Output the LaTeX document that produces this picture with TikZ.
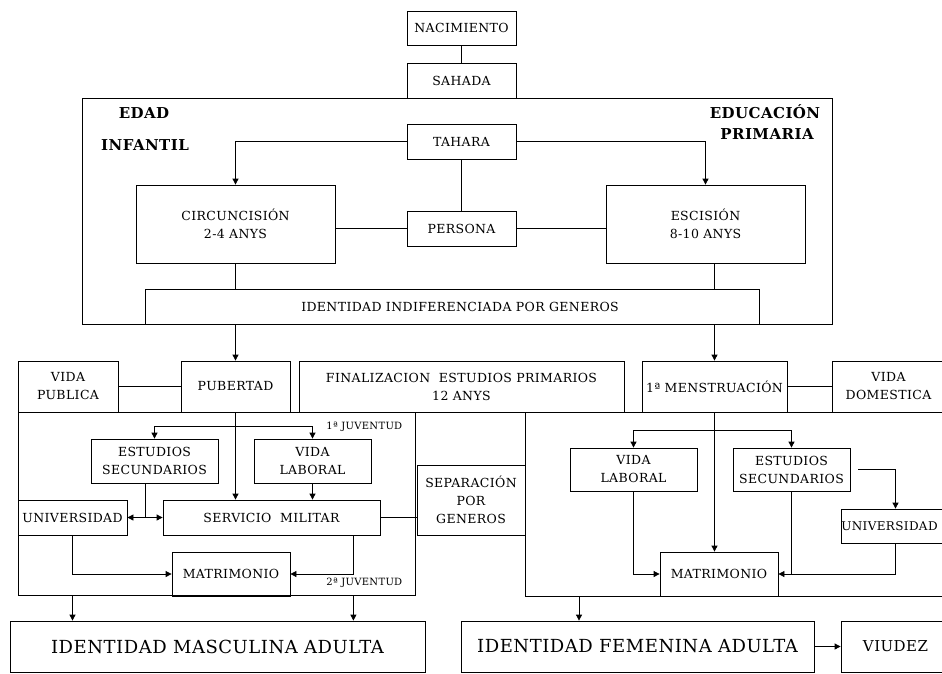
\documentclass[tikz,border=0pt]{standalone}
\usepackage{fontspec}
\setmainfont{DejaVu Serif}[LetterSpace=3]
\usetikzlibrary{arrows.meta, positioning}

\begin{document}
\begin{tikzpicture}[x=1pt, y=-1pt, line width=0.8pt,
    box/.style={draw, inner sep=1pt, align=center, font=\fontsize{12.5}{18}\selectfont},
    bigbox/.style={draw, inner sep=1pt, align=center, font=\fontsize{18}{20}\selectfont},
    tag/.style={anchor=base, font=\bfseries\fontsize{15}{17}\selectfont},
    small/.style={anchor=east, font=\fontsize{10}{11}\selectfont},
    arr/.style={-{Triangle[length=6pt,width=6pt]}}]
    \useasboundingbox (0,0) rectangle (942,673);
    \clip (0,0) rectangle (942,673);

    % top chain
    \node[box, minimum width=109, minimum height=34] (nac) at (461.5,28) {NACIMIENTO};
    \node[box, minimum width=109, minimum height=35] (sah) at (461.5,80.5) {SAHADA};
    \node[box, minimum width=750, minimum height=226] (prim) at (457,211) {};
    \node[tag] (edad) at (144,118) {EDAD};
    \node[tag] (infantil) at (145,150) {INFANTIL};
    \node[tag] (educ) at (765,118) {EDUCACIÓN};
    \node[tag] (primaria) at (767,139) {PRIMARIA};
    \node[box, minimum width=109, minimum height=35] (tah) at (461.5,141.5) {TAHARA};
    \node[box, minimum width=199, minimum height=78] (circ) at (235.5,224) {CIRCUNCISIÓN\\2-4 ANYS};
    \node[box, minimum width=109, minimum height=35] (per) at (461.5,228.5) {PERSONA};
    \node[box, minimum width=199, minimum height=78] (esc) at (705.5,224) {ESCISIÓN\\8-10 ANYS};
    \node[box, minimum width=614, minimum height=35] (ind) at (452,306.5) {\hspace{16pt}IDENTIDAD INDIFERENCIADA POR GENEROS};

    % second row
    \node[box, minimum width=100, minimum height=51] (vpub) at (68,386.5) {VIDA\\PUBLICA};
    \node[box, minimum width=109, minimum height=51] (pub) at (235.5,386.5) {PUBERTAD};
    \node[box, minimum width=325, minimum height=51] (fin) at (461.5,386.5) {FINALIZACION\ \ ESTUDIOS PRIMARIOS\\12 ANYS};
    \node[box, minimum width=145, minimum height=51] (mens) at (714.5,386.5) {1ª MENSTRUACIÓN};
    \node[box, minimum width=113, minimum height=51] (vdom) at (888.5,386.5) {VIDA\\DOMESTICA};

    % male side
    \node[box, minimum width=397, minimum height=183] (masc) at (216.5,503.5) {};
    \node[box, minimum width=127, minimum height=44] (estm) at (154.5,461) {ESTUDIOS\\SECUNDARIOS};
    \node[box, minimum width=117, minimum height=44] (vlabm) at (312.5,461) {VIDA\\LABORAL};
    \node[box, minimum width=217, minimum height=35] (serv) at (271.5,517.5) {SERVICIO\ \ MILITAR};
    \node[box, minimum width=109, minimum height=35] (unim) at (72.5,517.5) {UNIVERSIDAD};
    \node[box, minimum width=118, minimum height=44] (matm) at (231,574) {MATRIMONIO};
    \node[small] (juv1) at (406,427) {1ª JUVENTUD};
    \node[small] (juv2) at (406,583) {2ª JUVENTUD};

    \node[box, minimum width=108, minimum height=70] (sep) at (471,500) {SEPARACIÓN\\POR\\GENEROS};

    % female side
    \node[box, minimum width=425, minimum height=184] (fem) at (737.5,504) {};
    \node[box, minimum width=127, minimum height=43] (vlabf) at (633.5,469.5) {VIDA\\LABORAL};
    \node[box, minimum width=117, minimum height=43] (estf) at (791.5,469.5) {ESTUDIOS\\SECUNDARIOS};
    \node[box, minimum width=109, minimum height=34, font=\fontsize{12}{14}\selectfont] (unif) at (895.5,526) {\hspace*{-12pt}UNIVERSIDAD};
    \node[box, minimum width=118, minimum height=44] (matf) at (719,574) {MATRIMONIO};

    % adult identities
    \node[bigbox, minimum width=415, minimum height=51] (idm) at (217.5,646.5) {IDENTIDAD MASCULINA ADULTA};
    \node[bigbox, minimum width=353, minimum height=51] (idf) at (637.5,646.5) {IDENTIDAD FEMENINA ADULTA};
    \node[box, minimum width=109, minimum height=51, font=\fontsize{15}{17}\selectfont] (viu) at (895.5,646.5) {VIUDEZ};

    % connectors, childhood
    \draw (nac) -- (sah);
    \draw[arr] (tah.west) -| (circ.north);
    \draw[arr] (tah.east) -| (esc.north);
    \draw (tah) -- (per);
    \draw (per.west) -- (per.west -| circ.east);
    \draw (per.east) -- (per.east -| esc.west);
    \draw (circ.south) -- (circ.south |- ind.north);
    \draw (esc.south -| mens.north) -- (ind.north -| mens.north);
    \draw[arr] (prim.south -| pub.north) -- (pub.north);
    \draw[arr] (prim.south -| mens.north) -- (mens.north);

    % connectors, male
    \draw (vpub.east) -- (pub.west);
    \path (pub.south) ++(0,14) coordinate (bm);
    \draw[arr] (pub.south) -- (pub.south |- serv.north);
    \draw[arr] (bm) -| (estm.north);
    \draw[arr] (bm) -| (vlabm.north);
    \draw[arr] (vlabm.south) -- (vlabm.south |- serv.north);
    \coordinate (es) at ([xshift=-9]estm.south);
    \draw[arr] (es) |- (unim.east);
    \draw[arr] (es) |- (serv.west);
    \draw[arr] (unim.south) |- (matm.west);
    \coordinate (sm) at ([xshift=-27]serv.south east);
    \draw[arr] (sm) |- (matm.east);
    \draw (serv.east) -- (serv.east -| sep.west);
    \draw[arr] (masc.south -| unim.south) -- (idm.north -| unim.south);
    \draw[arr] (masc.south -| sm) -- (idm.north -| sm);

    % connectors, female
    \draw (mens.east) -- (vdom.west);
    \path (mens.south) ++(0,18) coordinate (bf);
    \draw[arr] (mens.south) -- (mens.south |- matf.north);
    \draw[arr] (bf) -| (vlabf.north);
    \draw[arr] (bf) -| (estf.north);
    \draw[arr] (vlabf.south) |- (matf.west);
    \draw[arr] (estf.south) |- (matf.east);
    \draw[arr] ([xshift=8]estf.east) -| (unif.north);
    \draw (unif.south) |- (estf.south |- matf.east);
    \coordinate (fm) at ([xshift=-58.5]idf.north);
    \draw[arr] (fm |- fem.south) -- (fm);
    \draw[arr] (idf.east) -- (viu.west);
\end{tikzpicture}
\end{document}
